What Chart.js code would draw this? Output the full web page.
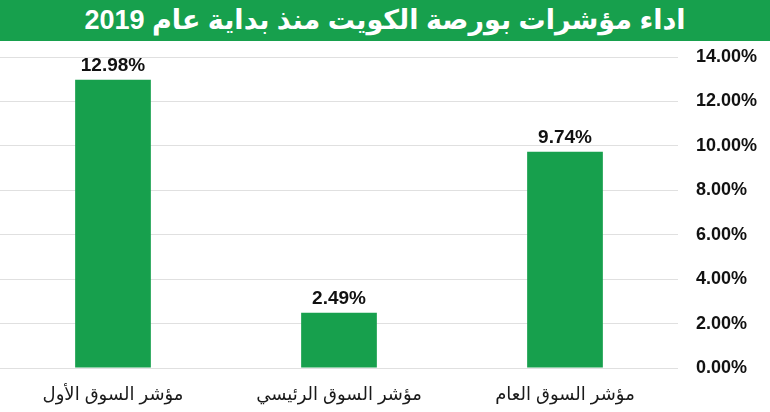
<!DOCTYPE html>
<html lang="ar">
<head>
<meta charset="utf-8">
<script src="https://cdn.jsdelivr.net/npm/chart.js@4.4.1/dist/chart.umd.min.js"></script>
<style>
    html, body { margin: 0; padding: 0; background: #ffffff; }
    #title {
        width: 770px; height: 41px; background: #17a04d; color: #ffffff;
        font-family: Arial, "Liberation Sans", "DejaVu Sans", sans-serif;
        font-weight: bold; font-size: 27px; line-height: 41px; text-align: center;
        direction: rtl;
    }
    #wrap { width: 770px; height: 371px; position: relative; }
</style>
</head>
<body>
<div id="title">اداء مؤشرات بورصة الكويت منذ بداية عام 2019</div>
<div id="wrap"><canvas id="kse_chart"></canvas></div>
<script>
"use strict";

// Data
var categories = ['مؤشر السوق العام', 'مؤشر السوق الرئيسي', 'مؤشر السوق الأول'];
var values = [9.74, 2.49, 12.98];
var yTicks = [0, 2, 4, 6, 8, 10, 12, 14];

var barColor = '#17a04d';

// Draws the value above each bar
var valueLabels = {
    id: 'valueLabels',
    afterDatasetsDraw: function (chart) {
        var ctx = chart.ctx;
        var meta = chart.getDatasetMeta(0);
        ctx.save();
        ctx.fillStyle = '#111111';
        ctx.font = 'bold 19px Arial, "Liberation Sans", sans-serif';
        ctx.textAlign = 'center';
        ctx.textBaseline = 'alphabetic';
        meta.data.forEach(function (bar, i) {
            ctx.fillText(values[i].toFixed(2) + '%', bar.x, bar.y - 9);
        });
        ctx.restore();
    }
};

var ctx = document.getElementById('kse_chart').getContext('2d');
var chart = new Chart(ctx, {
    type: 'bar',
    data: {
        labels: categories,
        datasets: [{
            data: values,
            backgroundColor: barColor,
            borderWidth: 0,
            barPercentage: 0.335,
            categoryPercentage: 1.0
        }]
    },
    options: {
        responsive: true,
        maintainAspectRatio: false,
        animation: false,
        layout: { padding: { left: 0, right: 0, top: 16, bottom: 0 } },
        scales: {
            x: {
                reverse: true,
                afterFit: function (axis) { axis.height = 44; },
                grid: { display: false, drawBorder: false },
                border: { display: false },
                ticks: {
                    color: '#1a1a1a',
                    padding: 8,
                    font: { family: 'Arial, "Liberation Sans", "DejaVu Sans", sans-serif', size: 18 }
                }
            },
            y: {
                position: 'right',
                min: 0,
                max: 14,
                afterBuildTicks: function (axis) {
                    axis.ticks = yTicks.map(function (v) { return { value: v }; });
                },
                afterFit: function (axis) {
                    axis.width = 92;
                    axis.paddingTop = 0;
                    axis.paddingBottom = 0;
                },
                grid: { color: '#e0e0e0', drawTicks: false, lineWidth: 1 },
                border: { display: false },
                ticks: {
                    color: '#111111',
                    padding: 18,
                    font: { family: 'Arial, "Liberation Sans", sans-serif', size: 18, weight: 'bold' },
                    callback: function (v) { return v.toFixed(2) + '%'; }
                }
            }
        },
        plugins: {
            legend: { display: false },
            tooltip: { enabled: false }
        }
    },
    plugins: [valueLabels]
});
</script>
</body>
</html>
